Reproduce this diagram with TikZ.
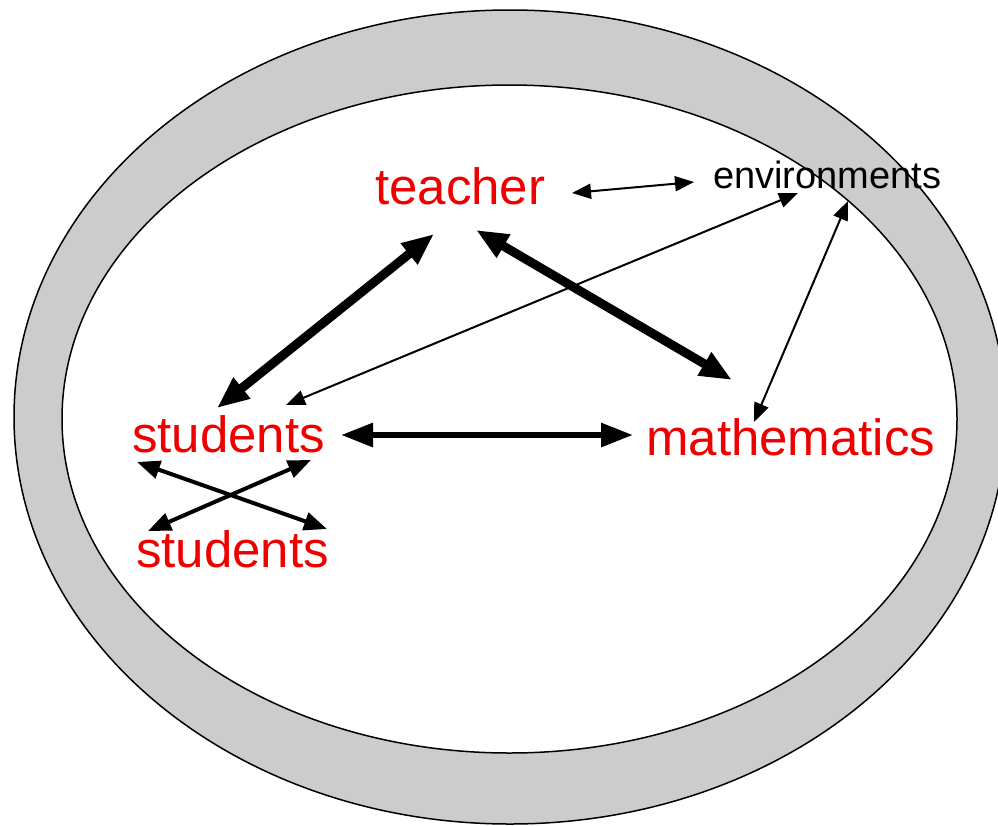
\documentclass[tikz,border=0pt]{standalone}
\usepackage{fontspec}
\setmainfont{Liberation Sans}
\usetikzlibrary{arrows.meta}
\definecolor{ringgray}{HTML}{CCCCCC}
\definecolor{labelred}{HTML}{EE0000}
\tikzset{
  redlabel/.style={text=labelred, font=\fontsize{51}{61}\selectfont, inner sep=0pt, anchor=base west},
  blacklabel/.style={text=black, font=\fontsize{38}{46}\selectfont, inner sep=0pt, anchor=base west},
  thinarrow/.style={line width=2pt, {Triangle[length=19pt,width=15pt]}-{Triangle[length=19pt,width=15pt]}},
  crossarrow/.style={line width=4pt, {Triangle[length=23pt,width=18pt]}-{Triangle[length=23pt,width=18pt]}},
  midarrow/.style={line width=6pt, {Triangle[length=32pt,width=23pt]}-{Triangle[length=32pt,width=23pt]}},
  thickarrow/.style={line width=9pt, {Triangle[length=32pt,width=25pt]}-{Triangle[length=32pt,width=25pt]}},
}
\begin{document}
\begin{tikzpicture}[x=1pt,y=-1pt]
\useasboundingbox (0,0) rectangle (998,825);
\clip (0,0) rectangle (998,825);
% rings
\filldraw[fill=ringgray, draw=black, line width=1.5pt] (510,417) ellipse [x radius=496, y radius=407];
\filldraw[fill=white, draw=black, line width=1.5pt] (509.5,419) ellipse [x radius=447.5, y radius=334];
% labels
\node[redlabel] (teacher) at (375,204) {teacher};
\node[blacklabel] (env) at (713,188) {environments};
\node[redlabel] (stu1) at (132,452) {students};
\node[redlabel] (stu2) at (136,567) {students};
\node[redlabel] (math) at (646,455) {mathematics};
% arrow ends
\coordinate (tE) at (572,193);
\coordinate (eT) at (694,182);
\coordinate (sE) at (286,405);
\coordinate (eS) at (798,193);
\coordinate (eM) at (848,201);
\coordinate (mE) at (754,422);
\coordinate (tS) at (434,234);
\coordinate (sT) at (217,408);
\coordinate (tM) at (476,230);
\coordinate (mT) at (732,380);
\coordinate (sM) at (341,435);
\coordinate (mS) at (633,435);
\coordinate (aUL) at (137,462);
\coordinate (aLR) at (327,529);
\coordinate (aUR) at (311,460);
\coordinate (aLL) at (148,531);
% connectors
\draw[thinarrow] (tE) -- (eT);
\draw[thinarrow] (sE) -- (eS);
\draw[thinarrow] (eM) -- (mE);
\draw[thickarrow] (tS) -- (sT);
\draw[thickarrow] (tM) -- (mT);
\draw[midarrow] (sM) -- (mS);
\draw[crossarrow] (aUL) -- (aLR);
\draw[crossarrow] (aUR) -- (aLL);
\end{tikzpicture}
\end{document}
